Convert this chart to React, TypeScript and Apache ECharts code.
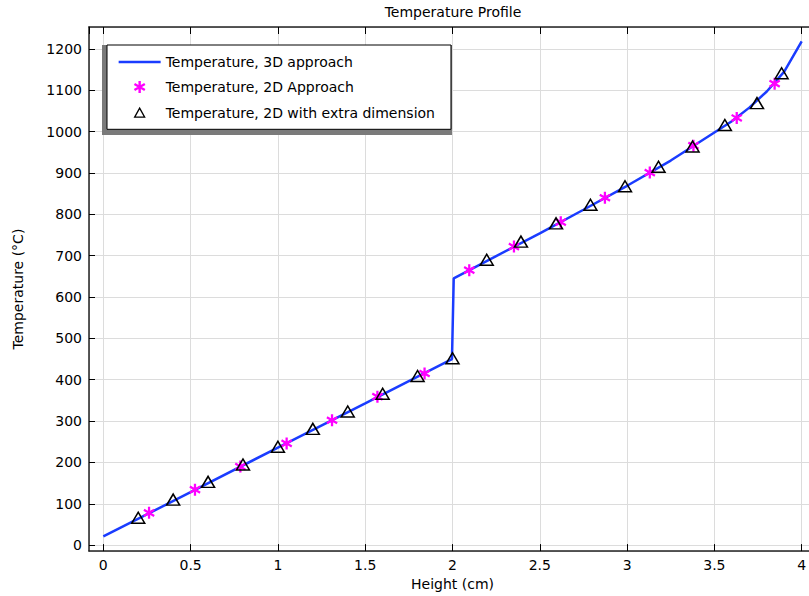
import React, { useEffect, useRef } from "react";
import * as echarts from "echarts";

const lineX = [0, 0.5, 1.0, 1.5, 1.997, 2.007, 2.25, 2.5, 2.75, 3.0, 3.25, 3.5, 3.6, 3.7, 3.8, 3.9, 4.0];
const lineY = [21, 128, 236, 343, 450, 645, 699, 754, 811, 869, 930, 998, 1025, 1058, 1097, 1145, 1218];

const starX = [0.262, 0.525, 0.785, 1.05, 1.31, 1.57, 1.84, 2.096, 2.352, 2.62, 2.873, 3.13, 3.38, 3.628, 3.845];
const starY = [78, 134, 190, 246, 302, 359, 415, 665, 722, 781, 840, 901, 966, 1033, 1116];

const triX = [0.2, 0.4, 0.6, 0.8, 1.0, 1.2, 1.4, 1.6, 1.8, 2.0, 2.196, 2.392, 2.593, 2.79, 2.988, 3.18, 3.375, 3.56, 3.744, 3.885];
const triY = [66, 110, 153, 195, 238, 281, 323, 366, 409, 452, 690, 734, 778, 823, 868, 915, 964, 1016, 1069, 1141];

const seriesNames = [
  "Temperature, 3D approach",
  "Temperature, 2D Approach",
  "Temperature, 2D with extra dimension",
];

const STAR =
  "path://M8.1,20L11.9,20L11.9,0L8.1,0Z" +
  "M17.6,16.8L19.5,13.5L2.4,3.2L0.5,6.5Z" +
  "M0.5,13.5L2.4,16.8L19.5,6.5L17.6,3.2Z";

// legend icons drawn in a 42x14 box (bounding moves keep the box size)
const LEG_LINE = "path://M0,0M42,14M0,5.75L42,5.75L42,8.25L0,8.25Z";
const LEG_STAR =
  "path://M0,0M42,14" +
  "M19.8,13L22.2,13L22.2,1L19.8,1Z" +
  "M25.6,11L26.8,9L16.4,3L15.2,5Z" +
  "M15.2,9L16.4,11L26.8,5L25.6,3Z";
const LEG_TRI = "path://M0,0M42,14M16,11.5L21,2.5L26,11.5Z";

const FONT = "DejaVu Sans";

export default function App() {
  const ref = useRef<HTMLDivElement>(null);
  useEffect(() => {
    if (!ref.current) return;
    const chart = echarts.init(ref.current, undefined, { renderer: "svg" });
    const zip = (xs: number[], ys: number[]) => xs.map((x, i) => [x, ys[i]]);
    const axisCommon = {
      type: "value",
      axisLine: { show: true, onZero: false, lineStyle: { color: "#222", width: 1.5 } },
      axisTick: { show: true, inside: true, length: 7, lineStyle: { color: "#000", width: 1 } },
      axisLabel: {
        color: "#000",
        fontSize: 14,
        fontFamily: FONT,
        margin: 7,
        showMinLabel: false,
        showMaxLabel: false,
        formatter: (v: number) => String(Math.round(v * 1000) / 1000),
      },
      splitLine: { show: true, lineStyle: { color: "#dcdcdc", width: 1 } },
    };
    chart.setOption({
      animation: false,
      backgroundColor: "#fff",
      textStyle: { fontFamily: FONT },
      grid: { left: 89, top: 27, right: 0, bottom: 40, containLabel: false },
      graphic: [
        {
          type: "text",
          x: 453,
          y: 12,
          z: 10,
          style: {
            text: "Temperature Profile",
            fontSize: 14,
            fontFamily: FONT,
            fill: "#000",
            textAlign: "center",
            textVerticalAlign: "middle",
          },
        },
        {
          type: "rect",
          z: 3,
          shape: { x: 102, y: 45, width: 350, height: 90 },
          style: { fill: "#7a7a7a" },
        },
      ],
      legend: {
        show: true,
        orient: "vertical",
        left: 107,
        top: 45,
        z: 5,
        padding: [10, 16, 9, 11],
        itemGap: 11,
        itemWidth: 42,
        itemHeight: 14,
        backgroundColor: "#fff",
        borderColor: "#000",
        borderWidth: 1,
        borderRadius: 0,
        textStyle: { fontSize: 14, fontFamily: FONT, color: "#000" },
        data: [
          { name: seriesNames[0], icon: LEG_LINE, itemStyle: { color: "#1a3cff" } },
          { name: seriesNames[1], icon: LEG_STAR, itemStyle: { color: "#ff00ff" } },
          {
            name: seriesNames[2],
            icon: LEG_TRI,
            itemStyle: { color: "rgba(0,0,0,0)", borderColor: "#000", borderWidth: 1.3 },
          },
        ],
      },
      xAxis: [
        {
          ...axisCommon,
          position: "bottom",
          min: -0.082,
          max: 4.082,
          splitNumber: 8,
          minInterval: 0.5,
          maxInterval: 0.5,
          name: "Height (cm)",
          nameLocation: "middle",
          nameGap: 24,
          nameTextStyle: { fontSize: 14, fontFamily: FONT, color: "#000" },
        },
        {
          ...axisCommon,
          position: "top",
          min: -0.082,
          max: 4.082,
          splitNumber: 8,
          minInterval: 0.5,
          maxInterval: 0.5,
          axisLabel: { show: false },
          splitLine: { show: false },
        },
      ],
      yAxis: [
        {
          ...axisCommon,
          position: "left",
          min: -14.5,
          max: 1253,
          splitNumber: 12,
          minInterval: 100,
          maxInterval: 100,
          axisTick: { show: true, inside: true, length: 6, lineStyle: { color: "#000", width: 1 } },
          name: "Temperature (°C)",
          nameLocation: "middle",
          nameGap: 64,
          nameTextStyle: { fontSize: 14, fontFamily: FONT, color: "#000" },
        },
      ],
      series: [
        {
          name: seriesNames[0],
          type: "line",
          xAxisIndex: 0,
          yAxisIndex: 0,
          data: zip(lineX, lineY),
          symbol: "none",
          showSymbol: false,
          lineStyle: { color: "#1a3cff", width: 2.5 },
          itemStyle: { color: "#1a3cff" },
          z: 2,
        },
        {
          name: seriesNames[1],
          type: "scatter",
          data: zip(starX, starY),
          symbol: STAR,
          symbolSize: 12,
          symbolKeepAspect: true,
          itemStyle: { color: "#ff00ff", opacity: 1 },
          z: 3,
        },
        {
          name: seriesNames[2],
          type: "scatter",
          data: zip(triX, triY),
          symbol: "triangle",
          symbolSize: [13, 11],
          itemStyle: { color: "rgba(0,0,0,0)", borderColor: "#000", borderWidth: 1.5, opacity: 1 },
          z: 4,
        },
      ],
    });
    return () => chart.dispose();
  }, []);
  return (
    <div
      style={{
        position: "fixed",
        left: 0,
        top: 0,
        width: 809,
        height: 596,
        overflow: "hidden",
        background: "#fff",
      }}
    >
      <div ref={ref} style={{ width: 816, height: 596 }} />
    </div>
  );
}
